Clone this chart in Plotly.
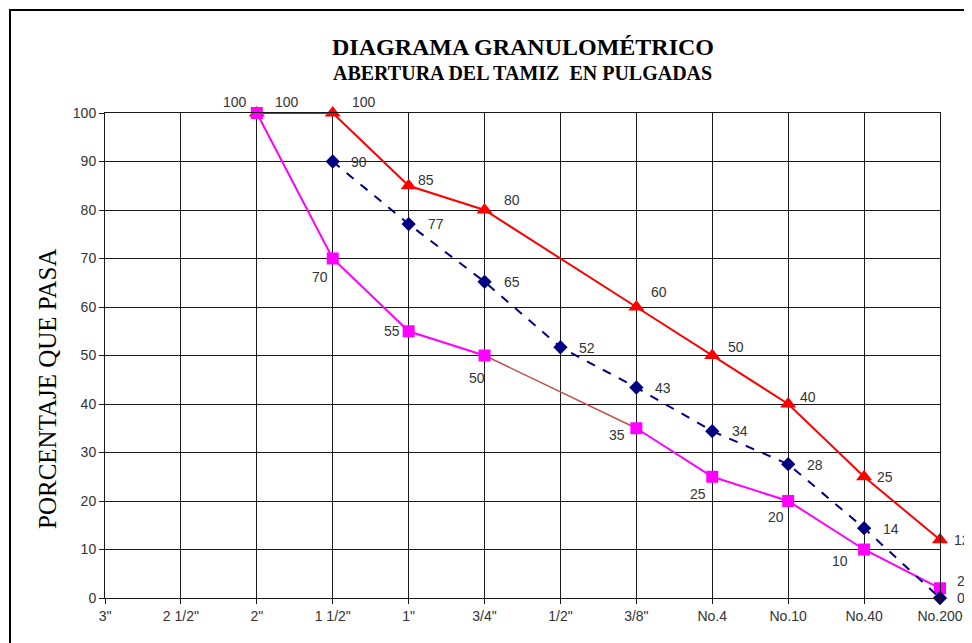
import plotly.graph_objects as go

# ---- data ----
tamices = ['3"', '2 1/2"', '2"', '1 1/2"', '1"', '3/4"', '1/2"', '3/8"', 'No.4', 'No.10', 'No.40', 'No.200']
serie_azul = [None, None, None, 90.0, 77.1, 65.2, 51.7, 43.4, 34.4, 27.6, 14.4, 0.0]
serie_roja = [None, None, 100, 100, 85, 80, None, 60, 50, 40, 25, 12]
serie_magenta = [None, None, 100, 70, 55, 50, None, 35, 25, 20, 10, 2]
y_ticks = [0, 10, 20, 30, 40, 50, 60, 70, 80, 90, 100]

xs = list(range(len(tamices)))

fig = go.Figure()

# brown connector across the missing 1/2" point of the magenta series
i0, i1 = 5, 7
fig.add_trace(go.Scatter(x=[xs[i0], xs[i1]], y=[serie_magenta[i0], serie_magenta[i1]],
                         mode="lines", line=dict(color="#C0504D", width=1.5),
                         hoverinfo="skip", showlegend=False))

fig.add_trace(go.Scatter(x=xs, y=serie_roja, mode="lines+markers", connectgaps=True,
                         line=dict(color="#FF0000", width=2),
                         marker=dict(symbol="triangle-up", size=14, color="#FF0000"),
                         cliponaxis=False, showlegend=False))
fig.add_trace(go.Scatter(x=xs, y=serie_magenta, mode="lines+markers", connectgaps=False,
                         line=dict(color="#FF00FF", width=2),
                         marker=dict(symbol="square", size=12, color="#FF00FF"),
                         cliponaxis=False, showlegend=False))
fig.add_trace(go.Scatter(x=xs, y=serie_azul, mode="lines+markers",
                         line=dict(color="#000080", width=2, dash="dash"),
                         marker=dict(symbol="diamond", size=11, color="#000080"),
                         cliponaxis=False, showlegend=False))

lab_font = dict(family="Liberation Sans, Arial", size=14, color="#333333")

def add_labels(vals, offsets):
    for x, v, off in zip(xs, vals, offsets):
        if v is None:
            continue
        fig.add_annotation(x=x, y=v, text=str(round(v)), showarrow=False,
                           xshift=off[0], yshift=off[1], font=lab_font)

z = (0, 0)
add_labels(serie_azul, [z, z, z, (26, 0), (27, 0), (27, 0), (27, -1), (27, 0), (28, 0), (27, -1), (27, -1), (21, 0)])
add_labels(serie_roja, [z, z, (30, 11), (31, 11), (17, 6), (27, 10), z, (23, 15), (24, 9), (20, 7), (21, 0), (22, 0)])
add_labels(serie_magenta, [z, z, (-22, 11), (-13, -18), (-17, 0), (-8, -22), z, (-19, -7), (-14, -17), (-12, -16), (-24, -11), (21, 7)])

grid_col = "#1a1a1a"
tick_font = dict(family="Liberation Sans, Arial", size=14, color="#333333")
fig.update_xaxes(range=[0, 11], tickmode="array", tickvals=xs, ticktext=tamices,
                 showgrid=True, gridcolor=grid_col, gridwidth=1,
                 showline=True, linecolor=grid_col, linewidth=1, mirror=True,
                 ticks="outside", ticklen=5, tickcolor=grid_col, tickfont=tick_font,
                 zeroline=False, fixedrange=True)
fig.update_yaxes(range=[0, 100], tickmode="array", tickvals=y_ticks,
                 showgrid=True, gridcolor=grid_col, gridwidth=1,
                 showline=True, linecolor=grid_col, linewidth=1, mirror=True,
                 ticks="outside", ticklen=5, tickcolor=grid_col, tickfont=tick_font,
                 zeroline=False, fixedrange=True)

# titles
serif = "Liberation Serif, Times New Roman"
fig.add_annotation(xref="paper", yref="paper", x=0.5, y=1.0, yshift=66, yanchor="middle",
                   text="<b>DIAGRAMA GRANULOMÉTRICO</b>",
                   showarrow=False, font=dict(family=serif, size=24, color="#000000"))
fig.add_annotation(xref="paper", yref="paper", x=0.5, y=1.0, yshift=40, yanchor="middle",
                   text="<b>ABERTURA DEL TAMIZ  EN PULGADAS</b>",
                   showarrow=False, font=dict(family=serif, size=20, color="#000000"))
fig.add_annotation(xref="paper", yref="paper", x=0, xshift=-57, xanchor="center",
                   y=0.431, yanchor="middle", text="PORCENTAJE QUE PASA",
                   textangle=-90, showarrow=False,
                   font=dict(family=serif, size=25, color="#000000"))

# layout: page body has an 8px offset, compensate so that the plot area sits at
# x 105..940, y 113..598 in the screenshot
W, H = 972, 643
OFF = 8
L, R, T, B = 105 - OFF, 32 + OFF, 113 - OFF, 45 + OFF
pw, ph = W - L - R, H - T - B
plot_left, plot_bottom = L, H - B

# outer chart frame (screen x=10, y=10 top-left, running past the window)
fx0, fy0 = 10 - OFF, 10 - OFF
fig.add_shape(type="rect", xref="paper", yref="paper",
              x0=(fx0 - plot_left) / pw, x1=(W + 30 - plot_left) / pw,
              y0=-(H + 30 - plot_bottom) / ph, y1=(plot_bottom - fy0) / ph,
              line=dict(color="#000000", width=2), layer="below")

fig.update_layout(width=W, height=H, margin=dict(l=L, r=R, t=T, b=B),
                  paper_bgcolor="white", plot_bgcolor="white", showlegend=False)

fig.write_html("out.html")
